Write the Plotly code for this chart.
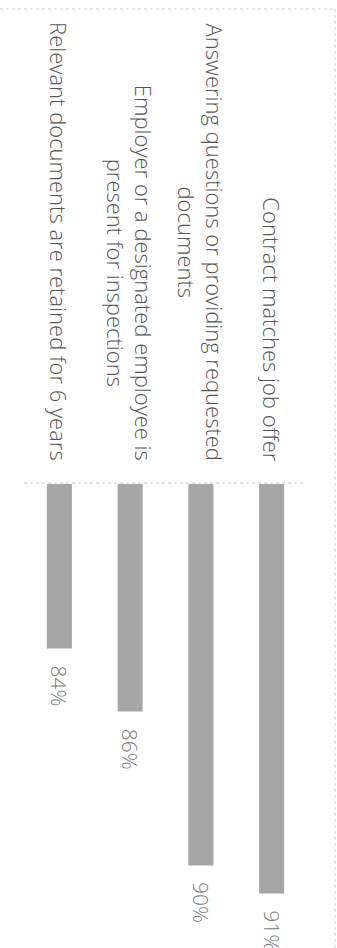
import plotly.graph_objects as go

categories = [
    "Contract matches job offer",
    "Answering questions or providing requested<br>documents",
    "Employer or a designated employee is<br>present for inspections",
    "Relevant documents are retained for 6 years",
]
values = [91.2, 90.4, 86.0, 84.2]

W, H = 337, 948
L, R, T, B = 24, 30, 484, 0
axis_min = 79.5
axis_max = 92.76

order = list(reversed(categories))

fig = go.Figure()
fig.add_trace(go.Bar(
    x=categories,
    y=values,
    marker=dict(color="#a6a6a6", line=dict(width=0)),
    hoverinfo="skip",
))

font_family = "Open Sans, Lato, DejaVu Sans, sans-serif"
text_color = "#555555"

annotations = []
for c in categories:
    annotations.append(dict(
        x=c, y=1, xref="x", yref="paper",
        text=c, textangle=90, showarrow=False,
        xanchor="center", yanchor="bottom", yshift=21, align="center",
        font=dict(family=font_family, size=22, color=text_color, weight=300),
    ))
for c, v in zip(categories, values):
    annotations.append(dict(
        x=c, y=v, xref="x", yref="y",
        text=f"{v:.0f}%", textangle=90, showarrow=False,
        xanchor="center", yanchor="top", yshift=-15,
        font=dict(family=font_family, size=21, color="#777777", weight=300),
    ))

pw = W - L - R
ph = H - T - B

shapes = [
    dict(type="line", xref="paper", yref="paper", x0=0, x1=(305 - L) / pw, y0=1.002, y1=1.002,
         line=dict(color="#c8c8c8", width=1, dash="dot")),
    dict(type="line", xref="paper", yref="paper", x0=-L / pw, x1=(335 - L) / pw,
         y0=(H - 9) / ph, y1=(H - 9) / ph, line=dict(color="#d0d0d0", width=1, dash="dot")),
    dict(type="line", xref="paper", yref="paper", x0=(335 - L) / pw, x1=(335 - L) / pw,
         y0=0, y1=(H - 9) / ph, line=dict(color="#d0d0d0", width=1, dash="dot")),
]

fig.update_layout(
    width=W, height=H,
    margin=dict(l=L, r=R, t=T, b=B, pad=0),
    paper_bgcolor="white", plot_bgcolor="white",
    showlegend=False,
    bargap=0.646,
    xaxis=dict(categoryorder="array", categoryarray=order, showticklabels=False,
               showgrid=False, zeroline=False, showline=False, ticks=""),
    yaxis=dict(range=[axis_max, axis_min], visible=False, showgrid=False, zeroline=False),
    annotations=annotations,
    shapes=shapes,
)

fig.write_html(
    "out.html",
    config={"displayModeBar": False},
    post_script="document.body.style.margin='0';document.body.style.overflow='hidden';",
)
